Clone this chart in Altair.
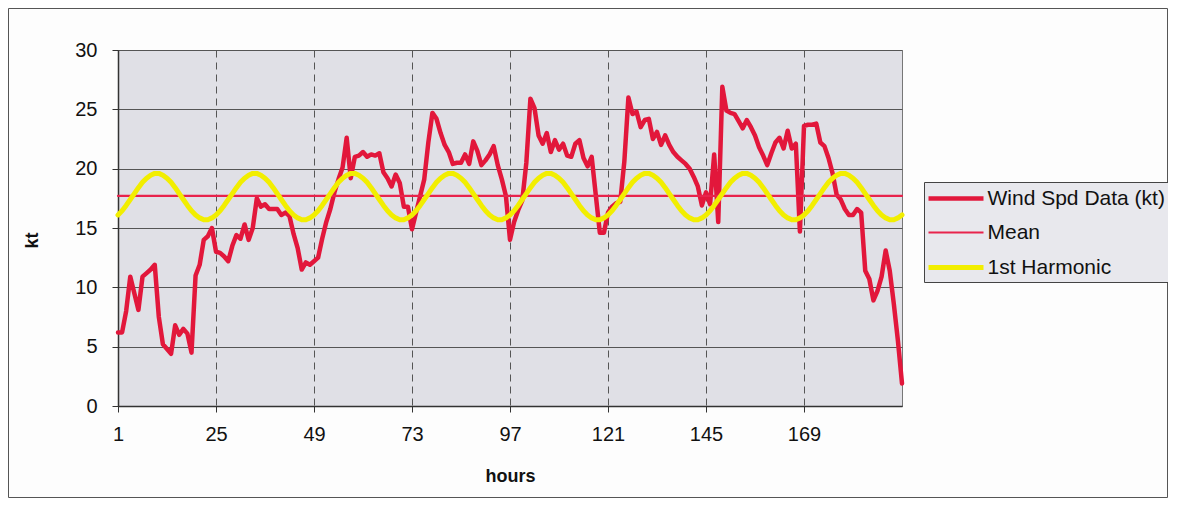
import altair as alt
import pandas as pd

# ---- data ----
hours = list(range(1, 194))

wind_speed = [
    6.2, 6.2, 8.0, 10.9, 9.5, 8.1, 10.9, 11.2, 11.5, 11.9,
    7.5, 5.2, 4.8, 4.4, 6.8, 6.0, 6.5, 6.1, 4.5, 11.0,
    11.9, 14.0, 14.3, 15.0, 13.0, 12.9, 12.6, 12.2, 13.5, 14.4,
    14.1, 15.3, 14.0, 15.0, 17.5, 16.8, 17.0, 16.6, 16.6, 16.6,
    16.1, 16.3, 16.0, 14.5, 13.3, 11.5, 12.1, 11.9, 12.2, 12.5,
    14.1, 15.5, 16.6, 18.0, 19.1, 20.1, 22.6, 19.2, 21.0, 21.1,
    21.4, 21.0, 21.2, 21.1, 21.3, 19.7, 19.2, 18.5, 19.5, 18.8,
    16.8, 16.8, 14.9, 16.3, 17.7, 19.1, 22.2, 24.7, 24.2, 23.0,
    22.0, 21.4, 20.4, 20.5, 20.5, 21.2, 20.4, 22.3, 21.5, 20.3,
    20.7, 21.2, 21.9, 20.3, 19.1, 17.7, 14.0, 15.5, 16.5, 17.3,
    20.5, 25.9, 25.1, 22.8, 22.1, 23.0, 21.4, 22.4, 21.6, 22.1,
    21.1, 21.0, 22.1, 22.4, 20.9, 20.2, 21.0, 17.8, 14.6, 14.6,
    16.3, 16.8, 17.1, 17.2, 20.6, 26.0, 24.6, 24.8, 23.5, 24.1,
    24.2, 22.5, 23.1, 22.0, 22.8, 22.0, 21.4, 21.0, 20.7, 20.4,
    20.0, 19.3, 18.5, 16.9, 18.0, 17.0, 21.2, 15.5, 26.9, 24.9,
    24.7, 24.6, 24.0, 23.4, 24.1, 23.5, 22.8, 21.8, 21.1, 20.3,
    21.3, 22.2, 22.6, 21.7, 23.2, 21.7, 22.1, 14.7, 23.6, 23.7,
    23.7, 23.8, 22.2, 21.9, 20.9, 19.6, 17.8, 17.4, 16.6, 16.1,
    16.1, 16.6, 16.3, 11.4, 10.7, 8.9, 9.7, 10.9, 13.1, 11.4,
    8.6, 5.5, 1.9,
]
assert len(wind_speed) == len(hours)

mean_speed = 17.7

# one 24-hour cycle of the 1st harmonic (hours 1..24)
harmonic_cycle = [
    16.1, 16.45, 16.9, 17.4, 17.9, 18.4, 18.85, 19.2, 19.45, 19.6, 19.6, 19.45,
    19.2, 18.85, 18.4, 17.9, 17.4, 16.9, 16.45, 16.1, 15.85, 15.7, 15.7, 15.85,
]

series_names = ["Wind Spd Data (kt)", "Mean", "1st Harmonic"]
series_colors = ["#e2173b", "#e8234c", "#f2ee00"]
series_widths = [4.5, 2.2, 5.0]

x_tick_values = [1, 25, 49, 73, 97, 121, 145, 169]
y_tick_values = [0, 5, 10, 15, 20, 25, 30]

# ---- tables ----
df_wind = pd.DataFrame({"hour": hours, "kt": wind_speed, "series": series_names[0]})
df_mean = pd.DataFrame({"hour": hours, "kt": [mean_speed] * len(hours), "series": series_names[1]})
df_harm = pd.DataFrame({
    "hour": hours,
    "kt": [harmonic_cycle[(h - 1) % 24] for h in hours],
    "series": series_names[2],
})

FONT = "Liberation Sans"

color_scale = alt.Scale(domain=series_names, range=series_colors)
width_scale = alt.Scale(type="ordinal", domain=series_names, range=series_widths)

legend = alt.Legend(
    title=None,
    orient="none",
    legendX=806,
    legendY=132,
    symbolType="M-2.75,0H2.75",
    symbolSize=400,
    symbolOffset=15.5,
    labelOffset=19,
    labelFont=FONT,
    labelFontSize=21,
    labelColor="#111111",
    labelLimit=400,
    rowPadding=12,
    padding=4,
    strokeColor="#444444",
    fillColor="#e8e8ed",
    cornerRadius=0,
)

x_enc = alt.X(
    "hour:Q",
    scale=alt.Scale(domain=[1, 193], nice=False, zero=False),
    axis=alt.Axis(
        values=x_tick_values,
        grid=True,
        gridDash=[7, 5],
        gridColor="#555555",
        gridWidth=1,
        domainColor="#333333",
        domainWidth=1.5,
        tickColor="#333333",
        tickSize=6,
        labelFont=FONT,
        labelFontSize=20,
        labelColor="#111111",
        labelPadding=12,
        labelFlush=False,
        labelOverlap=False,
        title="hours",
        titleFont=FONT,
        titleFontSize=18,
        titleFontWeight="bold",
        titleColor="#111111",
        titleX=392,
        titleY=70,
        titleBaseline="middle",
    ),
)
y_enc = alt.Y(
    "kt:Q",
    scale=alt.Scale(domain=[0, 30], nice=False, zero=True),
    axis=alt.Axis(
        values=y_tick_values,
        grid=True,
        gridColor="#555555",
        gridWidth=1,
        domainColor="#333333",
        domainWidth=1.5,
        tickColor="#333333",
        tickSize=6,
        labelFont=FONT,
        labelFontSize=20,
        labelColor="#111111",
        labelPadding=15,
        labelFlush=False,
        title="kt",
        titleFont=FONT,
        titleFontSize=18,
        titleFontWeight="bold",
        titleColor="#111111",
        titleX=-86,
        titleY=190,
        titleAngle=270,
        titleBaseline="middle",
        titleAlign="center",
    ),
)


def series_layer(df):
    return alt.Chart(df).mark_line(strokeJoin="round", strokeCap="round").encode(
        x=x_enc,
        y=y_enc,
        color=alt.Color("series:N", scale=color_scale, legend=legend),
        strokeWidth=alt.StrokeWidth("series:N", scale=width_scale, legend=legend),
    )


frame = alt.Chart(pd.DataFrame({"f": [0]})).mark_rect(
    fill=None, stroke="#555555", strokeWidth=1
).encode(
    x=alt.value(-109.5), x2=alt.value(1049.5), y=alt.value(-41.5), y2=alt.value(447.5)
)

chart = alt.layer(
    frame, series_layer(df_wind), series_layer(df_mean), series_layer(df_harm)
).properties(
    width=784,
    height=356,
    autosize=alt.AutoSizeParams(type="none"),
    padding={"left": 110, "top": 42, "right": 266, "bottom": 92},
    background="#fdfdfd",
).configure_view(
    fill="#e0e0e6",
    stroke="#777777",
    strokeWidth=1,
)

chart.save("out.html", embed_options={"renderer": "svg", "actions": False})
